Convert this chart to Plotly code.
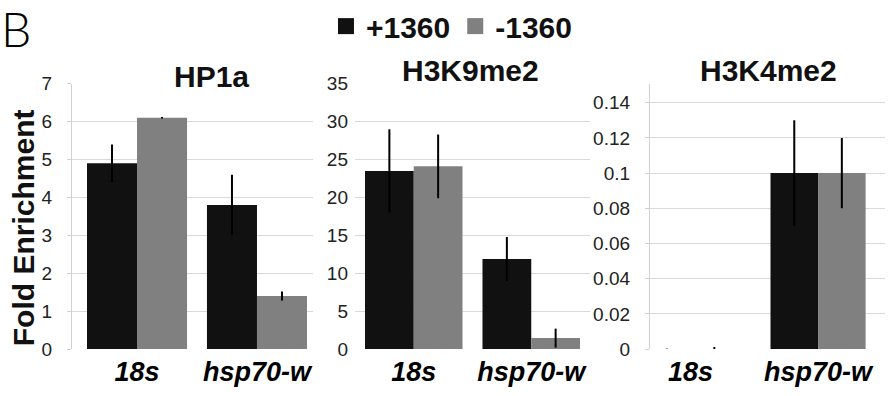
import plotly.graph_objects as go

W, H = 894, 396

categories = ["18s", "hsp70-w"]
series_names = ["+1360", "-1360"]
series_colors = ["#111111", "#808080"]
panel_titles = ["HP1a", "H3K9me2", "H3K4me2"]

hp1a_plus = [4.9, 3.8]
hp1a_plus_err = [0.5, 0.8]
hp1a_minus = [6.1, 1.4]
hp1a_minus_err = [0.02, 0.12]

h3k9_plus = [23.5, 11.9]
h3k9_plus_err = [5.5, 2.9]
h3k9_minus = [24.1, 1.45]
h3k9_minus_err = [4.2, 1.25]

h3k4_plus = [0.0, 0.1]
h3k4_plus_err = [0.0003, 0.03]
h3k4_minus = [0.0, 0.1]
h3k4_minus_err = [0.0012, 0.02]

y_ranges = [[0, 7], [0, 35], [0, 0.1508]]
y_dticks = [1, 5, 0.02]

panels = [
    (hp1a_plus, hp1a_plus_err, hp1a_minus, hp1a_minus_err),
    (h3k9_plus, h3k9_plus_err, h3k9_minus, h3k9_minus_err),
    (h3k4_plus, h3k4_plus_err, h3k4_minus, h3k4_minus_err),
]

# layout geometry (pixels)
x_px = [(72, 313), (355, 590), (650, 885)]
x_ranges = [[-0.542, 1.467], [-0.5, 1.5], [-0.318, 1.525]]
bar_w = [0.417, 0.415, 0.373]
y_top_px, y_bot_px = 77, 358

def fx(p):
    return p / W

def fy(p):
    return 1 - p / H

FONT = "Liberation Sans, Arial, Helvetica, sans-serif"
fig = go.Figure()

for i, (pv, pe, mv, me) in enumerate(panels):
    xa = "x" if i == 0 else f"x{i+1}"
    ya = "y" if i == 0 else f"y{i+1}"
    for j, (vals, errs) in enumerate([(pv, pe), (mv, me)]):
        fig.add_trace(go.Bar(
            x=categories, y=vals, name=series_names[j],
            xaxis=xa, yaxis=ya,
            width=bar_w[i], offset=-bar_w[i] if j == 0 else 0,
            marker=dict(color=series_colors[j], line=dict(width=0)),
            error_y=dict(type="data", array=errs, visible=True,
                         color="#000000", thickness=2, width=0),
            showlegend=False,
        ))

# legend entries
for j in range(2):
    fig.add_trace(go.Scatter(
        x=[None], y=[None], mode="markers", name=series_names[j],
        marker=dict(symbol="square", size=16, color=series_colors[j]),
        showlegend=True,
    ))

layout = dict(
    width=W, height=H, autosize=False,
    margin=dict(l=0, r=0, t=0, b=0),
    paper_bgcolor="white", plot_bgcolor="white",
    font=dict(family=FONT, color="#222222"),
    showlegend=True,
    legend=dict(orientation="h", x=0.505, xanchor="center", y=fy(16), yanchor="middle",
                font=dict(size=30, family=FONT, weight="bold", color="#111111"),
                itemsizing="trace", tracegroupgap=0, itemwidth=30,
                bgcolor="rgba(0,0,0,0)"),
)

for i in range(3):
    sx = "" if i == 0 else str(i + 1)
    layout[f"xaxis{sx}"] = dict(
        domain=[fx(x_px[i][0]), fx(x_px[i][1])],
        range=x_ranges[i], type="category",
        anchor=f"y{sx}", showgrid=False, zeroline=False, showline=False,
        ticks="", tickfont=dict(size=27, family=FONT, weight="bold", style="italic", color="#000000"),
        ticklabelstandoff=4, fixedrange=True,
    )
    yd = dict(
        domain=[fy(y_bot_px), fy(y_top_px)],
        range=y_ranges[i], dtick=y_dticks[i], tick0=0,
        anchor=f"x{sx}", showgrid=True, gridcolor="#d9d9d9", gridwidth=1.3,
        zeroline=False, tickfont=dict(size=19, family=FONT, color="#222222"),
        fixedrange=True,
    )
    if i == 1:
        yd.update(showline=False, ticks="", ticklabelstandoff=6)
    else:
        yd.update(showline=True, linecolor="#d0d0d0", linewidth=1.3,
                  ticks="outside", ticklen=4, tickcolor="#d0d0d0", tickwidth=1.3,
                  ticklabelstandoff=11)
    layout[f"yaxis{sx}"] = yd

title_pos = [(211, 69), (470, 63), (768, 63)]
annotations = []
for i, t in enumerate(panel_titles):
    annotations.append(dict(
        text=t, x=fx(title_pos[i][0]), y=fy(title_pos[i][1]),
        xref="paper", yref="paper", xanchor="center", yanchor="middle",
        showarrow=False, font=dict(size=30, family=FONT, weight="bold", color="#111111"),
    ))
annotations.append(dict(
    text="Fold Enrichment", x=fx(23), y=fy(230), xref="paper", yref="paper",
    xanchor="center", yanchor="middle", textangle=-90, showarrow=False,
    font=dict(size=30, family=FONT, weight="bold", color="#111111"),
))
annotations.append(dict(
    text="B", x=0, y=fy(19), xref="paper", yref="paper",
    xanchor="left", yanchor="middle", showarrow=False, borderpad=0,
    font=dict(size=48, family="Lato, Liberation Sans, sans-serif", weight=300, color="#000000"),
))
layout["annotations"] = annotations

fig.update_layout(**layout)
fig.write_html("out.html")
